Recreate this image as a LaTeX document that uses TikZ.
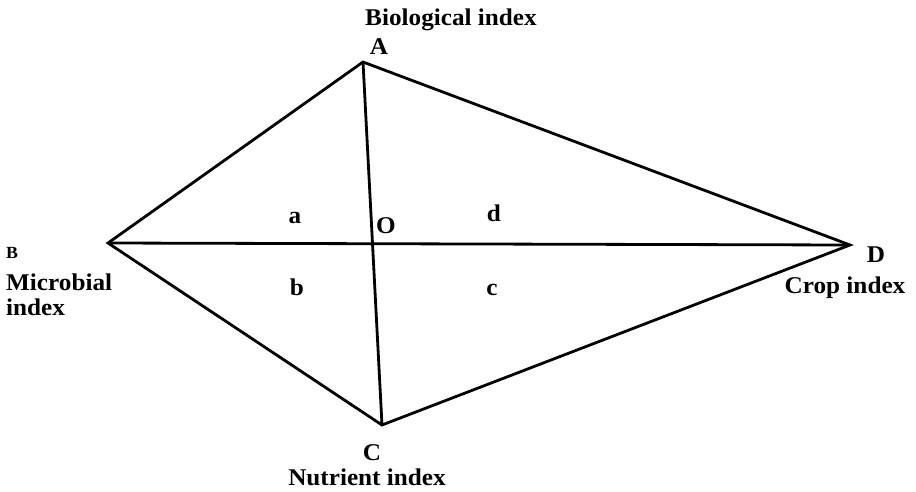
\documentclass[tikz,border=0pt]{standalone}
\usepackage{fontspec}
\setmainfont[FakeStretch=1.05]{Liberation Serif}
\begin{document}
\begin{tikzpicture}[x=1pt,y=-1pt,
  edge/.style={line width=2.8pt,line join=miter},
  lbl/.style={font=\bfseries\fontsize{24}{27}\selectfont,anchor=base,inner sep=0pt},
  small/.style={font=\bfseries\fontsize{17}{20}\selectfont,anchor=base,inner sep=0pt}]
\useasboundingbox (0,0) rectangle (916,491);
\coordinate (A) at (363,62);
\coordinate (B) at (108,243);
\coordinate (C) at (382,425);
\coordinate (D) at (850,245);
\draw[edge] (A) -- (B) -- (C) -- (D) -- cycle;
\draw[edge] (A) -- (C);
\draw[edge] (B) -- (D);
\node[lbl] (bio) at (451,25) {Biological index};
\node[lbl] (la) at (379,54) {A};
\node[small] (lb) at (12,258) {B};
\node[lbl,anchor=base west] (mic1) at (6,290) {Microbial};
\node[lbl,anchor=base west] (mic2) at (6,315) {index};
\node[lbl] (ld) at (876,262) {D};
\node[lbl] (crop) at (845,293) {Crop index};
\node[lbl] (lc) at (372,460) {C};
\node[lbl] (nut) at (367,485) {Nutrient index};
\node[lbl] (sa) at (295,223) {a};
\node[lbl] (so) at (386,233) {O};
\node[lbl] (sd) at (494,221) {d};
\node[lbl] (sb) at (297,295) {b};
\node[lbl] (sc) at (492,295) {c};
\end{tikzpicture}
\end{document}
